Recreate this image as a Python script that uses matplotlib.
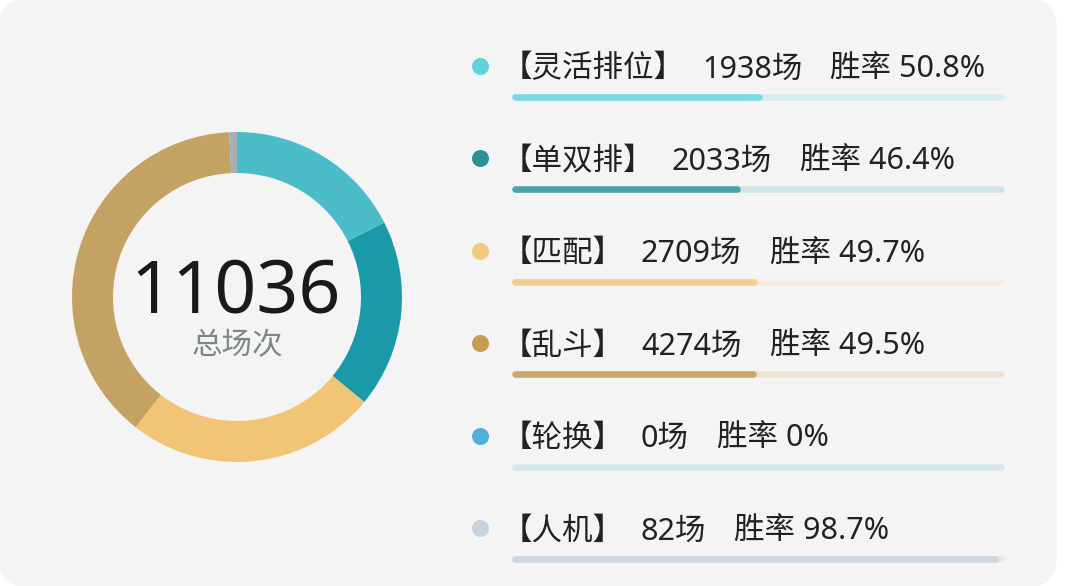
import numpy as np
import matplotlib
matplotlib.use('Agg')
import matplotlib.pyplot as plt
from matplotlib.patches import FancyBboxPatch

plt.rcParams['font.family'] = ['Noto Sans', 'Noto Sans CJK SC', 'DejaVu Sans']

#%% data
modes = ['灵活排位', '单双排', '匹配', '乱斗', '轮换', '人机']
games = [1938, 2033, 2709, 4274, 0, 82]
win_rates = [50.8, 46.4, 49.7, 49.5, 0, 98.7]
win_labels = ['50.8%', '46.4%', '49.7%', '49.5%', '0%', '98.7%']
total_label = '总场次'

pie_colors = ['#4bbdc9', '#1a9aa8', '#f1c476', '#c4a263', '#4eb0dd', '#a7afb7']
dot_colors = ['#5fd2dc', '#2b9099', '#f2c97e', '#c49b55', '#4eb0dd', '#c8d2dc']
fill_colors = ['#7bd8de', '#4aa2aa', '#f2cd8b', '#c9a66a', '#4eb0dd', '#cdd6de']
track_colors = ['#d6edf0', '#cfe4e6', '#f6ede0', '#ede4d4', '#d5e8ee', '#e6e9ec']

W, H = 1080, 586
fig = plt.figure(figsize=(W / 100, H / 100), dpi=100)
fig.patch.set_facecolor('white')

#%% overlay axes in pixel coordinates
ax = fig.add_axes([0, 0, 1, 1])
ax.set_xlim(0, W)
ax.set_ylim(H, 0)
ax.axis('off')
card = FancyBboxPatch((-2 + 32, -2 + 32), 1059 - 64, 590 - 64,
                      boxstyle='round,pad=32', fc='#f4f4f4', ec='none', zorder=0)
ax.add_patch(card)

#%% donut
cx, cy, r = 237, 297, 165
axd = fig.add_axes([60 / W, (H - 460) / H, 338 / W, 340 / H])
axd.pie(games, colors=pie_colors, startangle=90, counterclock=False,
        radius=r, center=(cx, H - cy),
        wedgeprops=dict(width=41, edgecolor='none', linewidth=0))
axd.set_aspect('auto')
axd.set_xlim(60, 398)
axd.set_ylim(H - 460, H - 120)
axd.axis('off')
axd.patch.set_alpha(0)
axd.text(cx - 1, H - 312, str(sum(games)), ha='center', va='baseline',
         fontsize=53, color='#1a1a1a')
axd.text(cx, H - 354, total_label, ha='center', va='baseline',
         fontsize=22, color='#7d8787')

#%% legend rows with progress bars
x_dot, x_text, x_bar, bar_len = 480, 502, 512, 492
row0, row_step = 66, 92.4
fs = 22
renderer = fig.canvas.get_renderer()
inv = ax.transData.inverted()

def right_edge(t):
    bb = t.get_window_extent(renderer)
    return inv.transform((bb.x1, bb.y0))[0]

for i, name in enumerate(modes):
    y = row0 + i * row_step
    ax.scatter([x_dot], [y], s=150, color=dot_colors[i], zorder=3, linewidths=0)
    t1 = ax.text(x_text, y + 11.5, '【' + name + '】', ha='left', va='baseline',
                 fontsize=fs, color='#222222')
    x2 = right_edge(t1) + 17
    t2 = ax.text(x2, y + 11.5, f'{games[i]}场', ha='left', va='baseline',
                 fontsize=fs, color='#222222')
    x3 = right_edge(t2) + 28
    ax.text(x3, y + 11.5, '胜率 ' + win_labels[i], ha='left', va='baseline',
            fontsize=fs, color='#222222')
    yb = y + 31
    ax.plot([x_bar + 3, x_bar + bar_len - 3], [yb, yb], color=track_colors[i],
            lw=4.7, solid_capstyle='round', zorder=2)
    if win_rates[i] > 0:
        ax.plot([x_bar + 3, x_bar + bar_len * win_rates[i] / 100 - 3], [yb, yb],
                color=fill_colors[i], lw=4.7, solid_capstyle='round', zorder=2.5)

fig.savefig('out.png', dpi=100, facecolor='white')
